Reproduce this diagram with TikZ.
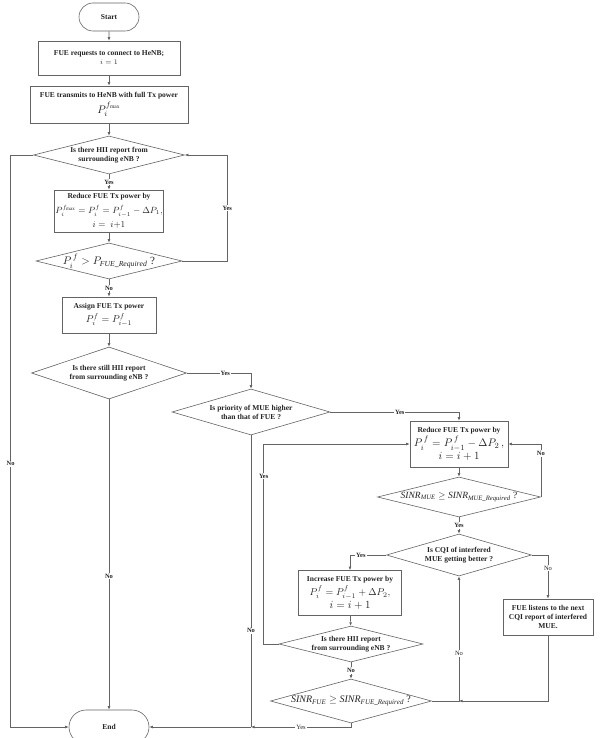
\documentclass[tikz,border=0pt]{standalone}
\usepackage{fontspec}
\setmainfont{Liberation Serif}
\usepackage{amsmath}
\usetikzlibrary{shapes.geometric,shapes.misc,arrows.meta}

\definecolor{linegray}{RGB}{100,100,100}
\definecolor{textgray}{RGB}{35,35,35}
\newcommand{\fml}[2]{{\fontsize{#1}{#1}\selectfont #2}}
\newcommand{\qmark}{\textnormal{\mdseries ?}}

\tikzset{
  plain/.style={draw=linegray, line width=0.6pt},
  flow/.style={plain, -{Latex[length=3.5pt,width=2.8pt]}},
  box/.style={draw=linegray, line width=0.6pt, rectangle, align=center, inner sep=1pt,
    text=textgray, font=\fontsize{7.5}{9}\selectfont\bfseries},
  term/.style={box, rounded rectangle},
  decision/.style={draw=linegray, line width=0.6pt, diamond, inner sep=0pt},
  dtext/.style={align=center, inner sep=0pt, text=textgray, font=\fontsize{7.5}{9}\selectfont\bfseries},
  yn/.style={fill=white, inner sep=1pt, text=textgray, font=\fontsize{6.5}{7}\selectfont\bfseries},
  ynlight/.style={yn, font=\fontsize{6.5}{7}\selectfont}
}

\begin{document}
\begin{tikzpicture}[x=1pt,y=-1pt]
\useasboundingbox (0,0) rectangle (601,738);

\node[term, minimum width=62pt, minimum height=28pt] (start) at (109,17) {Start};
\node[box, minimum width=142pt, minimum height=34pt] (request) at (109,58)
  {FUE requests to connect to HeNB;\\ $i = 1$};
\node[box, minimum width=158pt, minimum height=37pt] (transmit) at (109,104.5)
  {FUE transmits to HeNB with full Tx power\\[2pt] \fml{11}{$P_i^{f_{\max}}$}};
\node[decision, minimum width=151pt, minimum height=38pt,
  label={[dtext]center:{Is there HII report from\\surrounding eNB ?}}] (hii) at (109,155) {};
\node[box, minimum width=107pt, minimum height=42pt] (reduce) at (109,211)
  {Reduce FUE Tx power by\\[4pt] \fml{9}{$P_i^{f_{\max}} = P_i^f = P_{i-1}^f - \Delta P_1,$}\\[4pt] \fml{9}{$i =\ i{+}1$}};
\node[decision, minimum width=146pt, minimum height=36pt,
  label={[dtext]center:{\fml{11}{$P_i^{\,f} > P_{\mathit{FUE\_Required}}$ \qmark}}}] (check) at (109,261) {};
\node[box, minimum width=94pt, minimum height=36pt] (assign) at (109,315)
  {Assign FUE Tx power\\[2pt] \fml{10}{$P_i^f = P_{i-1}^f$}};
\node[decision, minimum width=155pt, minimum height=52pt,
  label={[dtext]center:{Is there still HII report\\from surrounding eNB ?}}] (still) at (109,373) {};
\node[term, minimum width=82pt, minimum height=34pt] (end) at (109,727) {End};

\node[decision, minimum width=158pt, minimum height=46pt,
  label={[dtext]center:{Is priority of MUE higher\\than that of FUE ?}}] (priority) at (251,412) {};
\node[box, minimum width=98pt, minimum height=46pt] (reduce2) at (459,444)
  {Reduce FUE Tx power by\\[1pt] \fml{11}{$P_i^{\,f} = P_{i-1}^{\,f} - \Delta P_2\,,$}\\[0.5pt] \fml{11}{$i = i + 1$}};
\node[decision, minimum width=163pt, minimum height=40pt,
  label={[dtext]center:{\fml{9.5}{$\mathit{SINR}_{\mathit{MUE}} \geq \mathit{SINR}_{\mathit{MUE\_Required}}$ \qmark}}}] (sinrmue) at (459,497) {};
\node[decision, minimum width=145pt, minimum height=42pt,
  label={[dtext]center:{Is CQI of interfered\\MUE getting better ?}}] (cqi) at (459,555) {};
\node[box, minimum width=103pt, minimum height=45pt] (increase) at (350,593)
  {Increase FUE Tx power by\\[1.5pt] \fml{10}{$P_i^f = P_{i-1}^f + \Delta P_2,$}\\[1pt] \fml{11}{$i = i + 1$}};
\node[box, minimum width=90pt, minimum height=36pt] (listen) at (548,617)
  {FUE listens to the next\\CQI report of interfered\\MUE.};
\node[decision, minimum width=144pt, minimum height=36pt,
  label={[dtext]center:{Is there HII report\\from surrounding eNB ?}}] (hii2) at (351,644) {};
\node[decision, minimum width=161pt, minimum height=44pt,
  label={[dtext]center:{\fml{10}{$\mathit{SINR}_{\mathit{FUE}} \geq \mathit{SINR}_{\mathit{FUE\_Required}}$ \qmark}}}] (sinrfue) at (351,701) {};

\coordinate (join) at (priority.south |- end.east);
\coordinate (merge) at (cqi.south |- sinrfue.east);

\draw[flow] (start) -- (request);
\draw[flow] (request) -- (transmit);
\draw[flow] (transmit) -- (hii);
\draw[flow] (hii) -- node[yn]{Yes} (reduce);
\draw[flow] (reduce) -- (check);
\draw[flow] (check.east) -- ++(45,0) |- node[yn,pos=0.25]{Yes} (hii.east);
\draw[flow] (check) -- node[yn]{No} (assign);
\draw[flow] (assign) -- (still);
\draw[flow] (hii.west) -- ++(-22.5,0) |- node[yn,pos=0.27]{No} (end.west);
\draw[flow] (still.east) -| node[yn,pos=0.3]{Yes} (priority.north);
\draw[flow] (still) -- node[yn,pos=0.57]{No} (end);
\draw[flow] (priority.east) -| node[yn,pos=0.27]{Yes} (reduce2.north);
\draw[plain] (priority.south) -- node[yn,pos=0.67]{No} (join);
\draw[flow] (reduce2) -- (sinrmue);
\draw[flow] (sinrmue.east) |- node[yn,pos=0.41]{No} (reduce2.east);
\draw[flow] (sinrmue) -- node[yn]{Yes} (cqi);
\draw[flow] (cqi.west) -| node[yn,pos=0.35]{Yes} (increase.north);
\draw[flow] (cqi.east) -| node[ynlight,pos=0.65]{No} (listen.north);
\draw[flow] (increase) -- (hii2);
\draw[flow] (hii2.west) -- ++(-15,0) |- node[yn,pos=0.42]{Yes} (reduce2.west);
\draw[flow] (hii2) -- node[yn]{No} (sinrfue);
\draw[flow] (sinrfue.east) -| node[ynlight,pos=0.69]{No} (cqi.south);
\draw[flow] (listen) |- (merge);
\draw[flow] (sinrfue.south) |- node[ynlight,pos=0.75]{Yes} (join);
\draw[flow] (join) -- (end.east);
\end{tikzpicture}
\end{document}
